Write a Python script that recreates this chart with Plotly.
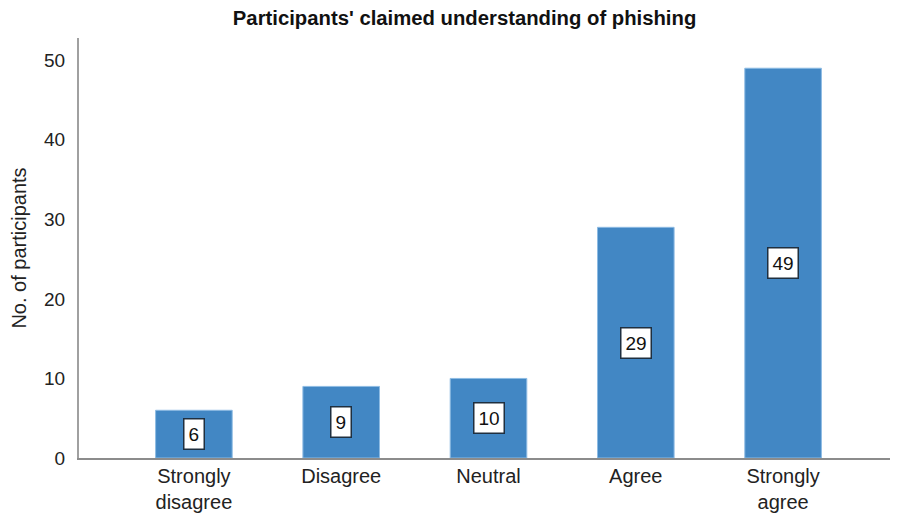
import plotly.graph_objects as go

categories = ["Strongly<br>disagree", "Disagree", "Neutral", "Agree", "Strongly<br>agree"]
counts = [6, 9, 10, 29, 49]
y_ticks = [0, 10, 20, 30, 40, 50]

FONT = "Liberation Sans, Arial, sans-serif"

# The page body has an 8px default margin, so the figure is sized to fill
# the remaining 890x507 of the 898x515 window.
fig = go.Figure()
fig.add_trace(go.Bar(
    x=list(range(len(categories))),
    y=counts,
    width=0.52,
    marker=dict(color="#4287c4", line=dict(color="#8dbbe3", width=1)),
    hoverinfo="skip",
))

for i, v in enumerate(counts):
    fig.add_annotation(
        x=i, y=v / 2, text=str(v), showarrow=False,
        font=dict(family=FONT, size=19, color="#111"),
        bgcolor="white", bordercolor="#1f2f3f", borderwidth=1.5, borderpad=4,
    )

fig.update_layout(
    width=890, height=507,
    margin=dict(l=71, r=0, t=30, b=57),
    paper_bgcolor="white", plot_bgcolor="white",
    showlegend=False,
    title=dict(
        text="<b>Participants' claimed understanding of phishing</b>",
        x=0.513, xanchor="center", y=0.98, yanchor="middle",
        font=dict(family=FONT, size=20.3, color="#111"),
    ),
    font=dict(family=FONT, size=20, color="#222"),
)
fig.update_xaxes(
    range=[-0.78, 4.78], automargin=False,
    tickmode="array", tickvals=list(range(len(categories))), ticktext=categories,
    showgrid=False, zeroline=False,
    showline=True, linecolor="#8c8c8c", linewidth=2,
    ticks="", ticklabelstandoff=-1,
    tickfont=dict(family=FONT, size=20, color="#222"),
)
fig.update_yaxes(
    range=[0, 52.8], automargin=False,
    tickmode="array", tickvals=y_ticks,
    showgrid=False, zeroline=False,
    showline=True, linecolor="#a0a0a0", linewidth=2,
    ticks="", ticklabelstandoff=8,
    tickfont=dict(family=FONT, size=19, color="#222"),
    title=dict(text="No. of participants", font=dict(family=FONT, size=20, color="#222"), standoff=14),
)

fig.write_html("out.html")
